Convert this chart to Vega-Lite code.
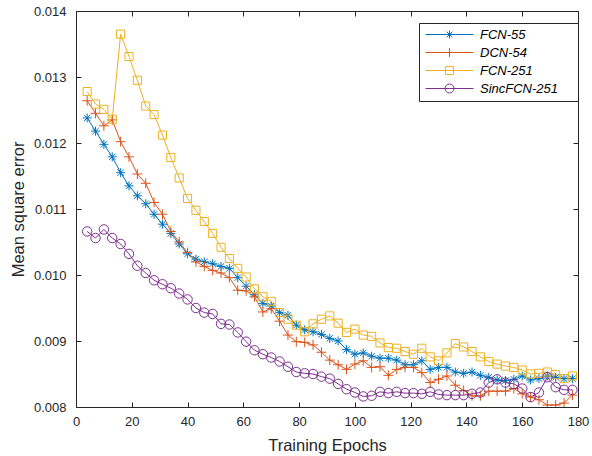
{
"$schema": "https://vega.github.io/schema/vega-lite/v6.json",
"width": 502, "height": 396,
"autosize": {"type": "none"},
"padding": {"left": 76, "top": 11, "right": 14, "bottom": 49},
"background": "white",
"config": {"view": {"stroke": null}, "font": "Liberation Sans",
  "axis": {"grid": false, "domainColor": "#262626", "tickColor": "#262626", "labelColor": "#262626", "titleColor": "#262626", "labelFontSize": 13, "titleFontSize": 16.5, "titleFontWeight": "normal", "tickSize": -5, "labelFlush": false, "labelOverlap": false},
  "legend": {"orient": "none", "legendX": 343, "legendY": 12, "strokeColor": "#262626", "fillColor": "white", "padding": 5,
     "symbolOffset": 19, "labelOffset": 24, "rowPadding": 4, "labelFontStyle": "italic", "labelFontSize": 13, "labelColor": "#000000",
     "symbolSize": 100, "symbolStrokeWidth": 1, "symbolOpacity": 1}},
"data": {"values": [
{"epoch":4,"series":"FCN-55","mse":0.01238},{"epoch":7,"series":"FCN-55","mse":0.01218},{"epoch":10,"series":"FCN-55","mse":0.01198},{"epoch":13,"series":"FCN-55","mse":0.01179},{"epoch":16,"series":"FCN-55","mse":0.01155},{"epoch":19,"series":"FCN-55","mse":0.01135},{"epoch":22,"series":"FCN-55","mse":0.0112},{"epoch":25,"series":"FCN-55","mse":0.01108},{"epoch":28,"series":"FCN-55","mse":0.01092},{"epoch":31,"series":"FCN-55","mse":0.01077},{"epoch":34,"series":"FCN-55","mse":0.01063},{"epoch":37,"series":"FCN-55","mse":0.01047},{"epoch":40,"series":"FCN-55","mse":0.01032},{"epoch":43,"series":"FCN-55","mse":0.01024},{"epoch":46,"series":"FCN-55","mse":0.0102},{"epoch":49,"series":"FCN-55","mse":0.01017},{"epoch":52,"series":"FCN-55","mse":0.01013},{"epoch":55,"series":"FCN-55","mse":0.0101},{"epoch":58,"series":"FCN-55","mse":0.00996},{"epoch":61,"series":"FCN-55","mse":0.00983},{"epoch":64,"series":"FCN-55","mse":0.0097},{"epoch":67,"series":"FCN-55","mse":0.00957},{"epoch":70,"series":"FCN-55","mse":0.00953},{"epoch":73,"series":"FCN-55","mse":0.00943},{"epoch":76,"series":"FCN-55","mse":0.00939},{"epoch":79,"series":"FCN-55","mse":0.00924},{"epoch":82,"series":"FCN-55","mse":0.00917},{"epoch":85,"series":"FCN-55","mse":0.00914},{"epoch":88,"series":"FCN-55","mse":0.0091},{"epoch":91,"series":"FCN-55","mse":0.00904},{"epoch":94,"series":"FCN-55","mse":0.009},{"epoch":97,"series":"FCN-55","mse":0.00887},{"epoch":100,"series":"FCN-55","mse":0.0088},{"epoch":103,"series":"FCN-55","mse":0.00882},{"epoch":106,"series":"FCN-55","mse":0.00877},{"epoch":109,"series":"FCN-55","mse":0.00874},{"epoch":112,"series":"FCN-55","mse":0.00874},{"epoch":115,"series":"FCN-55","mse":0.00871},{"epoch":118,"series":"FCN-55","mse":0.00864},{"epoch":121,"series":"FCN-55","mse":0.00864},{"epoch":124,"series":"FCN-55","mse":0.0087},{"epoch":127,"series":"FCN-55","mse":0.00857},{"epoch":130,"series":"FCN-55","mse":0.0086},{"epoch":133,"series":"FCN-55","mse":0.0086},{"epoch":136,"series":"FCN-55","mse":0.00853},{"epoch":139,"series":"FCN-55","mse":0.00851},{"epoch":142,"series":"FCN-55","mse":0.00853},{"epoch":145,"series":"FCN-55","mse":0.00848},{"epoch":148,"series":"FCN-55","mse":0.00845},{"epoch":151,"series":"FCN-55","mse":0.00841},{"epoch":154,"series":"FCN-55","mse":0.0084},{"epoch":157,"series":"FCN-55","mse":0.00842},{"epoch":160,"series":"FCN-55","mse":0.00847},{"epoch":163,"series":"FCN-55","mse":0.00841},{"epoch":166,"series":"FCN-55","mse":0.00843},{"epoch":169,"series":"FCN-55","mse":0.00847},{"epoch":172,"series":"FCN-55","mse":0.00845},{"epoch":175,"series":"FCN-55","mse":0.00843},{"epoch":178,"series":"FCN-55","mse":0.00843},
{"epoch":4,"series":"DCN-54","mse":0.01264},{"epoch":7,"series":"DCN-54","mse":0.01245},{"epoch":10,"series":"DCN-54","mse":0.01226},{"epoch":13,"series":"DCN-54","mse":0.01235},{"epoch":16,"series":"DCN-54","mse":0.01202},{"epoch":19,"series":"DCN-54","mse":0.01179},{"epoch":22,"series":"DCN-54","mse":0.01153},{"epoch":25,"series":"DCN-54","mse":0.01139},{"epoch":28,"series":"DCN-54","mse":0.0111},{"epoch":31,"series":"DCN-54","mse":0.01092},{"epoch":34,"series":"DCN-54","mse":0.01066},{"epoch":37,"series":"DCN-54","mse":0.0105},{"epoch":40,"series":"DCN-54","mse":0.01034},{"epoch":43,"series":"DCN-54","mse":0.0102},{"epoch":46,"series":"DCN-54","mse":0.01013},{"epoch":49,"series":"DCN-54","mse":0.01007},{"epoch":52,"series":"DCN-54","mse":0.01003},{"epoch":55,"series":"DCN-54","mse":0.00996},{"epoch":58,"series":"DCN-54","mse":0.00977},{"epoch":61,"series":"DCN-54","mse":0.00976},{"epoch":64,"series":"DCN-54","mse":0.00967},{"epoch":67,"series":"DCN-54","mse":0.00944},{"epoch":70,"series":"DCN-54","mse":0.00949},{"epoch":73,"series":"DCN-54","mse":0.0093},{"epoch":76,"series":"DCN-54","mse":0.00909},{"epoch":79,"series":"DCN-54","mse":0.00899},{"epoch":82,"series":"DCN-54","mse":0.00898},{"epoch":85,"series":"DCN-54","mse":0.00894},{"epoch":88,"series":"DCN-54","mse":0.00883},{"epoch":91,"series":"DCN-54","mse":0.00871},{"epoch":94,"series":"DCN-54","mse":0.00864},{"epoch":97,"series":"DCN-54","mse":0.00857},{"epoch":100,"series":"DCN-54","mse":0.00865},{"epoch":103,"series":"DCN-54","mse":0.0087},{"epoch":106,"series":"DCN-54","mse":0.0086},{"epoch":109,"series":"DCN-54","mse":0.00861},{"epoch":112,"series":"DCN-54","mse":0.00848},{"epoch":115,"series":"DCN-54","mse":0.00857},{"epoch":118,"series":"DCN-54","mse":0.0086},{"epoch":121,"series":"DCN-54","mse":0.0086},{"epoch":124,"series":"DCN-54","mse":0.00852},{"epoch":127,"series":"DCN-54","mse":0.00837},{"epoch":130,"series":"DCN-54","mse":0.00842},{"epoch":133,"series":"DCN-54","mse":0.00847},{"epoch":136,"series":"DCN-54","mse":0.00833},{"epoch":139,"series":"DCN-54","mse":0.00825},{"epoch":142,"series":"DCN-54","mse":0.00817},{"epoch":145,"series":"DCN-54","mse":0.00817},{"epoch":148,"series":"DCN-54","mse":0.00824},{"epoch":151,"series":"DCN-54","mse":0.00824},{"epoch":154,"series":"DCN-54","mse":0.00824},{"epoch":157,"series":"DCN-54","mse":0.00828},{"epoch":160,"series":"DCN-54","mse":0.0082},{"epoch":163,"series":"DCN-54","mse":0.00815},{"epoch":166,"series":"DCN-54","mse":0.00811},{"epoch":169,"series":"DCN-54","mse":0.00803},{"epoch":172,"series":"DCN-54","mse":0.00803},{"epoch":175,"series":"DCN-54","mse":0.00806},{"epoch":178,"series":"DCN-54","mse":0.00818},
{"epoch":4,"series":"FCN-251","mse":0.01278},{"epoch":7,"series":"FCN-251","mse":0.01259},{"epoch":10,"series":"FCN-251","mse":0.01251},{"epoch":13,"series":"FCN-251","mse":0.01236},{"epoch":16,"series":"FCN-251","mse":0.01365},{"epoch":19,"series":"FCN-251","mse":0.01331},{"epoch":22,"series":"FCN-251","mse":0.01295},{"epoch":25,"series":"FCN-251","mse":0.01256},{"epoch":28,"series":"FCN-251","mse":0.01243},{"epoch":31,"series":"FCN-251","mse":0.01212},{"epoch":34,"series":"FCN-251","mse":0.01178},{"epoch":37,"series":"FCN-251","mse":0.01147},{"epoch":40,"series":"FCN-251","mse":0.01116},{"epoch":43,"series":"FCN-251","mse":0.01098},{"epoch":46,"series":"FCN-251","mse":0.01081},{"epoch":49,"series":"FCN-251","mse":0.01063},{"epoch":52,"series":"FCN-251","mse":0.01042},{"epoch":55,"series":"FCN-251","mse":0.01025},{"epoch":58,"series":"FCN-251","mse":0.0101},{"epoch":61,"series":"FCN-251","mse":0.00997},{"epoch":64,"series":"FCN-251","mse":0.00979},{"epoch":67,"series":"FCN-251","mse":0.00967},{"epoch":70,"series":"FCN-251","mse":0.0096},{"epoch":73,"series":"FCN-251","mse":0.00943},{"epoch":76,"series":"FCN-251","mse":0.00933},{"epoch":79,"series":"FCN-251","mse":0.00924},{"epoch":82,"series":"FCN-251","mse":0.00914},{"epoch":85,"series":"FCN-251","mse":0.00926},{"epoch":88,"series":"FCN-251","mse":0.00933},{"epoch":91,"series":"FCN-251","mse":0.00938},{"epoch":94,"series":"FCN-251","mse":0.00927},{"epoch":97,"series":"FCN-251","mse":0.00913},{"epoch":100,"series":"FCN-251","mse":0.00918},{"epoch":103,"series":"FCN-251","mse":0.00909},{"epoch":106,"series":"FCN-251","mse":0.00907},{"epoch":109,"series":"FCN-251","mse":0.00897},{"epoch":112,"series":"FCN-251","mse":0.0089},{"epoch":115,"series":"FCN-251","mse":0.00889},{"epoch":118,"series":"FCN-251","mse":0.00884},{"epoch":121,"series":"FCN-251","mse":0.0088},{"epoch":124,"series":"FCN-251","mse":0.00889},{"epoch":127,"series":"FCN-251","mse":0.00876},{"epoch":130,"series":"FCN-251","mse":0.0087},{"epoch":133,"series":"FCN-251","mse":0.00882},{"epoch":136,"series":"FCN-251","mse":0.00896},{"epoch":139,"series":"FCN-251","mse":0.00891},{"epoch":142,"series":"FCN-251","mse":0.00884},{"epoch":145,"series":"FCN-251","mse":0.00876},{"epoch":148,"series":"FCN-251","mse":0.00869},{"epoch":151,"series":"FCN-251","mse":0.00865},{"epoch":154,"series":"FCN-251","mse":0.00862},{"epoch":157,"series":"FCN-251","mse":0.0086},{"epoch":160,"series":"FCN-251","mse":0.00856},{"epoch":163,"series":"FCN-251","mse":0.0085},{"epoch":166,"series":"FCN-251","mse":0.00851},{"epoch":169,"series":"FCN-251","mse":0.00853},{"epoch":172,"series":"FCN-251","mse":0.00849},{"epoch":175,"series":"FCN-251","mse":0.00843},{"epoch":178,"series":"FCN-251","mse":0.00847},
{"epoch":4,"series":"SincFCN-251","mse":0.01066},{"epoch":7,"series":"SincFCN-251","mse":0.01056},{"epoch":10,"series":"SincFCN-251","mse":0.01069},{"epoch":13,"series":"SincFCN-251","mse":0.01056},{"epoch":16,"series":"SincFCN-251","mse":0.01047},{"epoch":19,"series":"SincFCN-251","mse":0.01032},{"epoch":22,"series":"SincFCN-251","mse":0.01014},{"epoch":25,"series":"SincFCN-251","mse":0.01003},{"epoch":28,"series":"SincFCN-251","mse":0.00992},{"epoch":31,"series":"SincFCN-251","mse":0.00986},{"epoch":34,"series":"SincFCN-251","mse":0.0098},{"epoch":37,"series":"SincFCN-251","mse":0.00972},{"epoch":40,"series":"SincFCN-251","mse":0.00963},{"epoch":43,"series":"SincFCN-251","mse":0.0095},{"epoch":46,"series":"SincFCN-251","mse":0.00943},{"epoch":49,"series":"SincFCN-251","mse":0.00941},{"epoch":52,"series":"SincFCN-251","mse":0.00926},{"epoch":55,"series":"SincFCN-251","mse":0.00925},{"epoch":58,"series":"SincFCN-251","mse":0.00913},{"epoch":61,"series":"SincFCN-251","mse":0.00899},{"epoch":64,"series":"SincFCN-251","mse":0.00886},{"epoch":67,"series":"SincFCN-251","mse":0.0088},{"epoch":70,"series":"SincFCN-251","mse":0.00875},{"epoch":73,"series":"SincFCN-251","mse":0.00869},{"epoch":76,"series":"SincFCN-251","mse":0.00861},{"epoch":79,"series":"SincFCN-251","mse":0.00853},{"epoch":82,"series":"SincFCN-251","mse":0.00851},{"epoch":85,"series":"SincFCN-251","mse":0.0085},{"epoch":88,"series":"SincFCN-251","mse":0.00846},{"epoch":91,"series":"SincFCN-251","mse":0.00843},{"epoch":94,"series":"SincFCN-251","mse":0.00835},{"epoch":97,"series":"SincFCN-251","mse":0.00827},{"epoch":100,"series":"SincFCN-251","mse":0.00822},{"epoch":103,"series":"SincFCN-251","mse":0.00816},{"epoch":106,"series":"SincFCN-251","mse":0.00817},{"epoch":109,"series":"SincFCN-251","mse":0.00823},{"epoch":112,"series":"SincFCN-251","mse":0.00821},{"epoch":115,"series":"SincFCN-251","mse":0.00823},{"epoch":118,"series":"SincFCN-251","mse":0.00821},{"epoch":121,"series":"SincFCN-251","mse":0.00821},{"epoch":124,"series":"SincFCN-251","mse":0.0082},{"epoch":127,"series":"SincFCN-251","mse":0.00823},{"epoch":130,"series":"SincFCN-251","mse":0.00819},{"epoch":133,"series":"SincFCN-251","mse":0.00818},{"epoch":136,"series":"SincFCN-251","mse":0.00818},{"epoch":139,"series":"SincFCN-251","mse":0.00818},{"epoch":142,"series":"SincFCN-251","mse":0.0082},{"epoch":145,"series":"SincFCN-251","mse":0.00822},{"epoch":148,"series":"SincFCN-251","mse":0.00837},{"epoch":151,"series":"SincFCN-251","mse":0.00842},{"epoch":154,"series":"SincFCN-251","mse":0.00837},{"epoch":157,"series":"SincFCN-251","mse":0.00835},{"epoch":160,"series":"SincFCN-251","mse":0.00828},{"epoch":163,"series":"SincFCN-251","mse":0.00815},{"epoch":166,"series":"SincFCN-251","mse":0.00822},{"epoch":169,"series":"SincFCN-251","mse":0.00845},{"epoch":172,"series":"SincFCN-251","mse":0.0083},{"epoch":175,"series":"SincFCN-251","mse":0.00826},{"epoch":178,"series":"SincFCN-251","mse":0.00826}
]},
"layer": [
{"mark": {"type": "line", "strokeWidth": 1, "clip": true},
 "encoding": {
  "x": {"field": "epoch", "type": "quantitative", "scale": {"domain": [0, 180], "nice": false},
        "axis": {"orient": "bottom", "values": [0,20,40,60,80,100,120,140,160,180], "title": "Training Epochs", "labelPadding": 13, "titlePadding": 9}},
  "y": {"field": "mse", "type": "quantitative", "scale": {"domain": [0.008, 0.014], "nice": false, "zero": false},
        "axis": {"orient": "left", "values": [0.008,0.009,0.010,0.011,0.012,0.013,0.014], "format": ".3f", "title": "Mean square error", "labelPadding": 15, "titlePadding": 7}},
  "color": {"field": "series", "type": "nominal",
   "scale": {"domain": ["FCN-55","DCN-54","FCN-251","SincFCN-251"], "range": ["#0072BD","#D95319","#EDB120","#7E2F8E"]},
   "legend": null}
 }},
{"mark": {"type": "point", "filled": false, "strokeWidth": 1, "size": 81, "opacity": 1, "clip": true},
 "encoding": {
  "x": {"field": "epoch", "type": "quantitative", "axis": {"orient": "top", "values": [0,20,40,60,80,100,120,140,160,180], "labels": false, "title": null}},
  "y": {"field": "mse", "type": "quantitative", "axis": {"orient": "right", "values": [0.008,0.009,0.010,0.011,0.012,0.013,0.014], "labels": false, "title": null}},
  "color": {"field": "series", "type": "nominal", "legend": null},
  "shape": {"field": "series", "type": "nominal", "legend": null,
   "scale": {"domain": ["FCN-55","DCN-54","FCN-251","SincFCN-251"],
    "range": ["M-1,0L1,0M0,-1L0,1M-0.7,-0.7L0.7,0.7M-0.7,0.7L0.7,-0.7", "M-1.1,0L1.1,0M0,-1.1L0,1.1", "M-0.9,-0.9L0.9,-0.9L0.9,0.9L-0.9,0.9Z", "M1.05,0A1.05,1.05 0 1,1 -1.05,0A1.05,1.05 0 1,1 1.05,0Z"]}}
 }},
{"mark": {"type": "point", "filled": false, "strokeWidth": 1, "size": 100, "opacity": 0},
 "encoding": {
  "x": {"field": "epoch", "type": "quantitative", "axis": null},
  "y": {"field": "mse", "type": "quantitative", "axis": null},
  "color": {"field": "series", "type": "nominal", "legend": {"title": null}},
  "shape": {"field": "series", "type": "nominal", "legend": {"title": null},
   "scale": {"domain": ["FCN-55","DCN-54","FCN-251","SincFCN-251"],
    "range": ["M-4.8,0L4.8,0M-0.8,0L0.8,0M0,-0.8L0,0.8M-0.57,-0.57L0.57,0.57M-0.57,0.57L0.57,-0.57M24.2,0", "M-4.8,0L4.8,0M0,-0.9L0,0.9M24.2,0", "M-4.8,0L4.8,0M-0.8,-0.8L0.8,-0.8L0.8,0.8L-0.8,0.8ZM24.2,0", "M-4.8,0L4.8,0M0.9,0A0.9,0.9 0 1,1 -0.9,0A0.9,0.9 0 1,1 0.9,0ZM24.2,0"]}}
 }}
],
"resolve": {"axis": {"x": "independent", "y": "independent"}, "scale": {"shape": "independent"}, "legend": {"color": "independent", "shape": "independent"}}
}
